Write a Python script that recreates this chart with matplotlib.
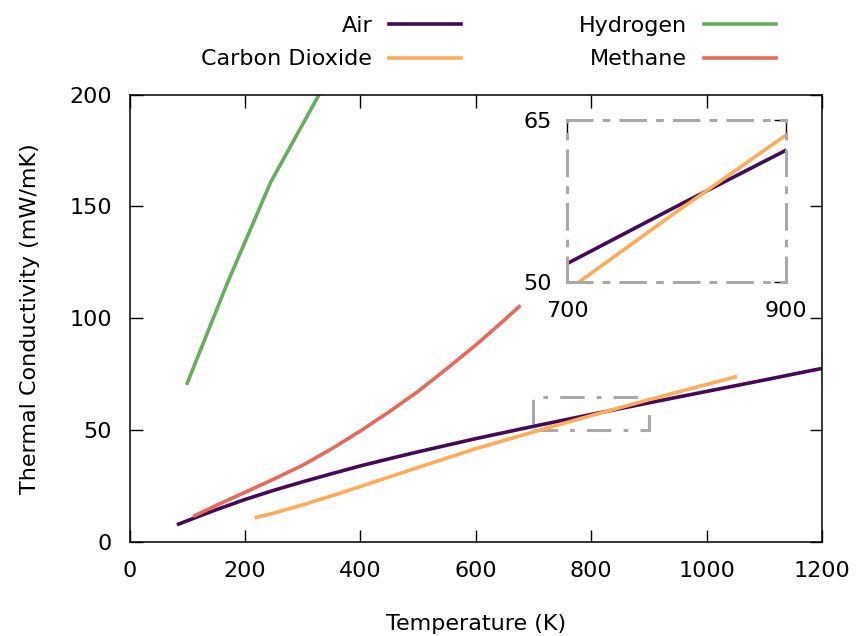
import matplotlib
matplotlib.use("Agg")
import matplotlib.pyplot as plt
from matplotlib.patches import Rectangle

plt.rcParams['font.family'] = ['DejaVu Sans']

# thermal conductivity, mW/mK vs K
air_T = [85, 100, 150, 200, 250, 300, 350, 400, 450, 500, 600, 700, 800, 900, 1000, 1100, 1200]
air_k = [8.0, 9.5, 14.4, 19.0, 23.1, 26.9, 30.5, 34.0, 37.2, 40.3, 46.2, 51.7, 57.0, 62.2, 67.3, 72.4, 77.6]

co2_T = [220, 250, 300, 350, 400, 500, 600, 700, 800, 900, 1000, 1050]
co2_k = [11.0, 12.9, 16.6, 20.6, 24.8, 33.3, 41.7, 49.2, 56.5, 63.6, 70.4, 73.8]

h2_T = [100, 170, 245, 350]
h2_k = [71, 116, 161, 210]

ch4_T = [113, 150, 200, 250, 300, 350, 400, 450, 500, 550, 600, 650, 675]
ch4_k = [11.8, 16.3, 22.2, 28.1, 34.3, 41.6, 49.6, 58.2, 67.3, 77.5, 88.0, 99.3, 105.2]

zoom_x = (700, 900)
zoom_y = (50, 65)

c_air = '#440a57'
c_co2 = '#ffab57'
c_h2 = '#6aab62'
c_ch4 = '#e8685a'
grey = '#a8a8a8'
fs = 16
lw = 2.6

fig = plt.figure(figsize=(8.56, 6.36), dpi=100)
ax = fig.add_axes([0.1513, 0.1478, 0.8090, 0.7036])

ax.plot(air_T, air_k, color=c_air, lw=lw, label='Air')
ax.plot(co2_T, co2_k, color=c_co2, lw=lw, label='Carbon Dioxide')
ax.plot(h2_T, h2_k, color=c_h2, lw=lw, label='Hydrogen')
ax.plot(ch4_T, ch4_k, color=c_ch4, lw=lw, label='Methane')

# box showing the zoomed region
ax.add_patch(Rectangle((zoom_x[0], zoom_y[0]), zoom_x[1] - zoom_x[0], zoom_y[1] - zoom_y[0],
                       fill=False, ec=grey, lw=2.2, ls=(0, (8, 4, 1.5, 4))))

ax.set_xlim(0, 1200)
ax.set_ylim(0, 200)
ax.set_xticks(range(0, 1201, 200))
ax.set_yticks(range(0, 201, 50))
ax.tick_params(direction='in', length=9, width=1, top=True, right=True, labelsize=fs)
ax.tick_params(axis='x', pad=13.5)
ax.tick_params(axis='y', pad=12.5)
for s in ax.spines.values():
    s.set_linewidth(1.1)

ax.set_xlabel('Temperature (K)', fontsize=fs)
ax.set_ylabel('Thermal Conductivity (mW/mK)', fontsize=fs)
ax.xaxis.set_label_coords(0.5, -0.161)
ax.yaxis.set_label_coords(-0.129, 0.5)

leg = ax.legend(ncol=2, loc='upper right', bbox_to_anchor=(776 / 856, 1 - 16 / 636),
                bbox_transform=fig.transFigure, frameon=False, fontsize=fs,
                markerfirst=False, handlelength=3.25, handletextpad=0.75,
                columnspacing=5.3, labelspacing=0.6, borderpad=0, borderaxespad=0)

# inset zoom
ins = fig.add_axes([567 / 856, 1 - 282 / 636, 219 / 856, 162 / 636])
ins.set_facecolor('white')
ins.plot(air_T, air_k, color=c_air, lw=lw)
ins.plot(co2_T, co2_k, color=c_co2, lw=lw)
ins.set_xlim(*zoom_x)
ins.set_ylim(*zoom_y)
ins.set_xticks(zoom_x)
ins.set_yticks(zoom_y)
ins.tick_params(direction='in', length=9, width=1, top=True, right=True, labelsize=fs)
ins.tick_params(axis='x', pad=14)
ins.tick_params(axis='y', pad=11)
for s in ins.spines.values():
    s.set_color(grey)
    s.set_linewidth(2.2)
    s.set_linestyle((0, (8, 4, 1.5, 4)))

fig.savefig('out.png', dpi=100)
